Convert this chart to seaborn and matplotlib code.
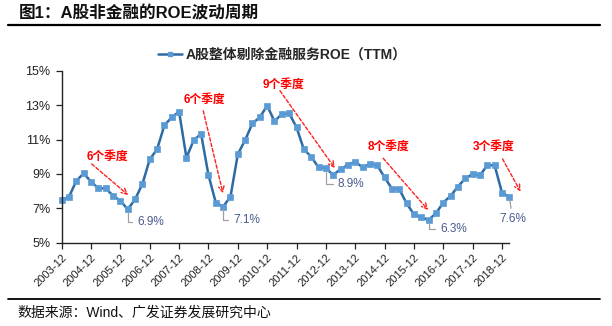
import matplotlib
matplotlib.use("Agg")
import matplotlib.pyplot as plt
from matplotlib.lines import Line2D
import seaborn as sns
import pandas as pd
import numpy as np

# ---- data ----
roe = [7.48, 7.67, 8.60, 9.03, 8.55, 8.16, 8.16, 7.73, 7.44, 6.94,
       7.52, 8.41, 9.85, 10.43, 11.83, 12.29, 12.62, 9.94, 10.97, 11.32,
       8.94, 7.33, 7.10, 7.67, 10.14, 10.97, 11.94, 12.29, 12.97, 12.06,
       12.48, 12.52, 11.71, 10.43, 10.00, 9.38, 9.34, 8.94, 9.27, 9.53,
       9.71, 9.38, 9.58, 9.50, 8.80, 8.14, 8.12, 7.29, 6.65, 6.48,
       6.32, 6.71, 7.33, 7.72, 8.26, 8.74, 8.99, 8.92, 9.50, 9.50,
       7.91, 7.66]
years = list(range(2003, 2020))
quarters = []
for y in years:
    for m in ("03", "06", "09", "12"):
        quarters.append(f"{y}-{m}")
quarters = quarters[quarters.index("2003-12"):quarters.index("2019-03") + 1]
tick_labels = ["2003-12", "2004-12", "2005-12", "2006-12", "2007-12", "2008-12",
               "2009-12", "2010-12", "2011-12", "2012-12", "2013-12", "2014-12",
               "2015-12", "2016-12", "2017-12", "2018-12"]
y_ticks = [5, 7, 9, 11, 13, 15]
series_name = "A股整体剔除金融服务ROE（TTM）"

# labelled points: (quarter, text)
point_labels = [("2006-03", "6.9%"), ("2009-06", "7.1%"), ("2012-12", "8.9%"),
                ("2016-06", "6.3%"), ("2019-03", "7.6%")]
# cycle annotations: text
cycle_texts = ["6个季度", "6个季度", "9个季度", "8个季度", "3个季度"]

df = pd.DataFrame({"idx": np.arange(len(roe)), "roe": roe, "q": quarters})

# ---- style ----
sns.set_style("ticks")
FAM = ["Liberation Sans", "Noto Sans CJK SC", "DejaVu Sans"]
plt.rcParams["font.family"] = FAM

fig = plt.figure(figsize=(6.12, 3.26), dpi=100)
ax = fig.add_axes([0.1008, 0.2555, 0.7314, 0.5276])

line_color = "#2E6AA3"
marker_color = "#5B9BD5"
sns.lineplot(data=df, x="idx", y="roe", ax=ax, color=line_color, lw=1.8,
             marker="s", markersize=4, markerfacecolor=marker_color,
             markeredgecolor=marker_color, markeredgewidth=0.5,
             label=series_name, legend=False)
for ln in ax.lines:
    ln.set_clip_on(False)
    ln.set_markerfacecolor(marker_color)
    ln.set_markeredgecolor(marker_color)

ax.set_xlim(0, len(roe) - 1)
ax.set_ylim(5, 15)
ax.set_yticks(y_ticks)
ax.set_yticklabels([f"{v}%" for v in y_ticks], fontsize=9, color="#222222")
tick_pos = [quarters.index(t) for t in tick_labels]
ax.set_xticks(tick_pos)
ax.set_xticklabels(tick_labels, rotation=45, ha="right", rotation_mode="anchor",
                   fontsize=8, color="#222222")
ax.tick_params(axis="both", direction="out", length=4, width=0.9, color="#222222")
ax.tick_params(axis="x", pad=3)
ax.tick_params(axis="y", pad=4)
ax.set_xlabel("")
ax.set_ylabel("")
for s in ("top", "right"):
    ax.spines[s].set_visible(False)
for s in ("left", "bottom"):
    ax.spines[s].set_color("#222222")
    ax.spines[s].set_linewidth(1.0)

# ---- value labels with leader lines ----
label_color = "#4A5A8C"
offsets = {"6.9%": (1.26, -0.71, "left"), "7.1%": (1.34, -0.78, "left"),
           "8.9%": (1.6, -0.94, "left"), "6.3%": (1.55, -0.54, "left"),
           "7.6%": (0.45, -1.28, "center")}
for q, txt in point_labels:
    i = quarters.index(q)
    v = roe[i]
    dx, dy, ha = offsets[txt]
    if ha == "left":
        cs = "angle,angleA=0,angleB=90,rad=0"
    else:
        cs = "arc3"
    ax.annotate(txt, xy=(i, v), xytext=(i + dx, v + dy), ha=ha, va="center",
                fontsize=8.5, color=label_color, annotation_clip=False,
                arrowprops=dict(arrowstyle="-", color="#A0A0A0", lw=0.9,
                                shrinkA=1, shrinkB=2, connectionstyle=cs))

# ---- cycle arrows ----
arrow_pos = [((4.09, 9.58), (9.07, 7.77), (6.3, 9.98)),
             ((19.29, 12.67), (21.98, 7.87), (19.39, 13.3)),
             ((29.74, 13.84), (37.23, 9.33), (30.19, 14.17)),
             ((43.81, 9.91), (49.94, 6.9), (44.5, 10.58)),
             ((60.08, 9.87), (62.53, 7.97), (58.8, 10.58))]
for txt, (st, en, tp) in zip(cycle_texts, arrow_pos):
    ax.annotate("", xy=en, xytext=st, annotation_clip=False,
                arrowprops=dict(arrowstyle="->", color="#FF2020", lw=1.0,
                                linestyle=(0, (2.5, 1.5)), mutation_scale=10,
                                shrinkA=0, shrinkB=0))
    ax.text(tp[0], tp[1], txt, color="#FF0000", fontsize=8.5, fontweight="bold",
            ha="center", va="center", clip_on=False)

# ---- legend ----
handle = Line2D([], [], color=line_color, lw=1.8, marker="s", markersize=3,
                markerfacecolor=marker_color, markeredgecolor=marker_color)
fig.legend([handle], [series_name], loc="center", bbox_to_anchor=(0.462, 0.831),
           frameon=False, handlelength=1.7, handletextpad=0.3,
           prop={"size": 10, "weight": "bold", "family": FAM})

# ---- title, rules, source ----
fig.text(0.031, 0.959, "图1：A股非金融的ROE波动周期", fontsize=12, fontweight="bold",
         ha="left", va="center", color="#111111")
fig.add_artist(Line2D([0.013, 0.98], [0.923, 0.923], color="black", lw=1.6,
                      transform=fig.transFigure))
fig.add_artist(Line2D([0.013, 0.98], [0.083, 0.083], color="black", lw=1.3,
                      transform=fig.transFigure))
fig.text(0.028, 0.04, "数据来源：Wind、广发证券发展研究中心", fontsize=10,
         ha="left", va="center", color="#111111")

fig.savefig("out.png", dpi=100, facecolor="white")
